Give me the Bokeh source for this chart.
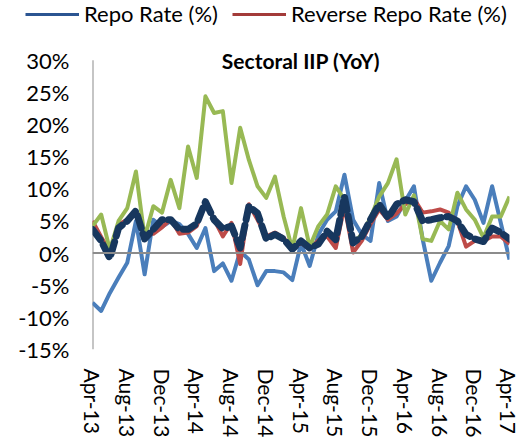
from bokeh.plotting import figure
from bokeh.layouts import column
from bokeh.models import Span, Label, Legend, LegendItem, FixedTicker, Range1d
from bokeh.embed import file_html
from bokeh.resources import INLINE

months = ["Apr-13", "May-13", "Jun-13", "Jul-13", "Aug-13", "Sep-13", "Oct-13", "Nov-13", "Dec-13",
          "Jan-14", "Feb-14", "Mar-14", "Apr-14", "May-14", "Jun-14", "Jul-14", "Aug-14", "Sep-14",
          "Oct-14", "Nov-14", "Dec-14", "Jan-15", "Feb-15", "Mar-15", "Apr-15", "May-15", "Jun-15",
          "Jul-15", "Aug-15", "Sep-15", "Oct-15", "Nov-15", "Dec-15", "Jan-16", "Feb-16", "Mar-16",
          "Apr-16", "May-16", "Jun-16", "Jul-16", "Aug-16", "Sep-16", "Oct-16", "Nov-16", "Dec-16",
          "Jan-17", "Feb-17", "Mar-17", "Apr-17"]

mining = [-7.7, -9.0, -6.2, -3.8, -1.5, 5.0, -3.3, 5.2, 4.1, 5.0, 4.5, 3.0, 0.8, 3.9, -2.8, -1.6,
          -4.3, 0.3, -1.0, -5.0, -2.8, -2.8, -3.0, -4.2, 1.5, -2.0, 2.9, 5.2, 6.5, 12.2, 5.2, 2.9,
          1.9, 10.9, 5.0, 5.7, 8.1, 10.4, 2.2, -4.3, -1.5, 1.1, 7.3, 10.4, 8.3, 4.7, 10.4, 4.7, -1.0]

manufacturing = [5.0, 2.5, 0.3, 4.5, 5.2, 6.6, 3.4, 3.0, 4.0, 5.3, 3.0, 3.2, 4.2, 7.9, 5.2, 2.6,
                 4.7, -1.7, 7.6, 5.2, 2.6, 3.2, 2.4, 0.6, 1.6, 0.6, 2.0, 2.6, 0.8, 7.3, 0.1, 1.9,
                 4.5, 6.8, 5.2, 6.2, 7.6, 8.5, 6.3, 6.5, 6.8, 6.3, 5.0, 1.0, 1.9, 1.9, 2.6, 2.6, 1.4]

electricity = [4.2, 6.0, 0.5, 5.0, 7.0, 12.7, 2.4, 7.3, 6.3, 11.4, 7.0, 16.6, 11.7, 24.4, 21.8, 22.1,
               10.9, 19.5, 14.5, 10.4, 8.6, 11.9, 5.7, 0.6, 7.0, 1.0, 4.2, 6.0, 10.4, 8.3, 1.6, 2.9,
               5.5, 8.8, 10.9, 14.6, 6.0, 9.0, 2.2, 1.9, 5.0, 3.7, 9.4, 6.8, 5.2, 2.4, 5.7, 5.7, 8.8]

overall_iip = [3.7, 1.9, -0.8, 3.9, 5.0, 6.6, 2.2, 3.7, 5.2, 5.2, 3.7, 3.7, 4.6, 8.0, 5.2, 3.8,
               4.2, 0.8, 7.3, 6.2, 2.2, 2.9, 2.2, 0.6, 1.9, 0.8, 1.4, 3.4, 2.1, 8.8, 1.6, 2.6,
               5.2, 7.6, 5.5, 7.6, 8.3, 8.0, 5.0, 5.2, 5.5, 5.7, 5.0, 2.9, 2.2, 1.8, 3.9, 3.2, 2.2]

legend_labels = ["Repo Rate (%)", "Reverse Repo Rate (%)"]
x_tick_labels = ["Apr-13", "Aug-13", "Dec-13", "Apr-14", "Aug-14", "Dec-14", "Apr-15",
                 "Aug-15", "Dec-15", "Apr-16", "Aug-16", "Dec-16", "Apr-17"]
y_ticks = [-15, -10, -5, 0, 5, 10, 15, 20, 25, 30]
y_tick_labels = ["-15%", "-10%", "-5%", "0%", "5%", "10%", "15%", "20%", "25%", "30%"]
title_text = "Sectoral IIP (YoY)"

FONT = "Lato"
AXIS_GRAY = "#8C8C8C"
x = list(range(len(months)))
nan = float("nan")

# ---- legend strip (own small figure above the chart, frame spans its full width) ----
lf = figure(width=520, height=30, output_backend="svg", toolbar_location=None,
            x_axis_type=None, y_axis_type=None, min_border=0,
            x_range=Range1d(0, 1), y_range=Range1d(0, 1))
lf.frame_align = False
lf.outline_line_color = None
lf.grid.visible = False
# legend-only series (no values shown in the chart)
r1 = lf.line([nan], [nan], line_color="#2B5592", line_width=3)
r2 = lf.line([nan], [nan], line_color="#A33B39", line_width=3)
legend = Legend(items=[LegendItem(label=legend_labels[0], renderers=[r1]),
                       LegendItem(label=legend_labels[1], renderers=[r2])],
                orientation="horizontal", location=(25, 3),
                label_text_font=FONT, label_text_font_size="22px", label_text_color="#000000",
                glyph_width=54, glyph_height=20, label_standoff=5, spacing=14,
                padding=0, margin=0, border_line_color=None, background_fill_alpha=0)
lf.add_layout(legend)

# ---- main chart ----
p = figure(frame_width=417, frame_height=302, output_backend="svg", toolbar_location=None,
           x_range=Range1d(0, len(months) - 1), y_range=Range1d(y_ticks[0], y_ticks[-1] + 2),
           min_border_left=92, min_border_top=17, min_border_right=11, min_border_bottom=10)
p.frame_align = False
p.outline_line_color = None
p.grid.visible = False

# zero line and vertical axis line (from -15% to 30%)
p.add_layout(Span(location=0, dimension="width", line_color=AXIS_GRAY, line_width=2))
p.segment(x0=[x[0]], y0=[y_ticks[0]], x1=[x[0]], y1=[y_ticks[-1]],
          line_color=AXIS_GRAY, line_width=2)

p.line(x, mining, line_color="#4A7EBB", line_width=4, line_join="round")
p.line(x, manufacturing, line_color="#BE4B48", line_width=4, line_join="round")
p.line(x, electricity, line_color="#98B954", line_width=4, line_join="round")
p.line(x, overall_iip, line_color="#17375E", line_width=7, line_dash="13 6",
       line_cap="round", line_join="round")

p.add_layout(Label(x=(len(months) - 1) / 2, y=y_ticks[-1] + 2, text=title_text, text_align="center",
                   text_baseline="top", text_font=FONT, text_font_style="bold",
                   text_font_size="21px", text_color="#000000"))

# y axis
p.yaxis.ticker = FixedTicker(ticks=y_ticks)
p.yaxis.major_label_overrides = {t: l for t, l in zip(y_ticks, y_tick_labels)}
p.yaxis.axis_line_color = None
p.yaxis.major_tick_line_color = None
p.yaxis.minor_tick_line_color = None
p.yaxis.major_tick_out = 0
p.yaxis.major_label_standoff = 23
p.yaxis.major_label_text_font = FONT
p.yaxis.major_label_text_font_size = "22px"
p.yaxis.major_label_text_color = "#000000"

# x axis
x_ticks = [months.index(l) for l in x_tick_labels]
p.xaxis.ticker = FixedTicker(ticks=x_ticks)
p.xaxis.major_label_overrides = {t: l for t, l in zip(x_ticks, x_tick_labels)}
p.xaxis.major_label_orientation = "vertical"
p.xaxis.axis_line_color = None
p.xaxis.major_tick_line_color = None
p.xaxis.minor_tick_line_color = None
p.xaxis.major_tick_out = 0
p.xaxis.major_label_standoff = 19
p.xaxis.major_label_text_font = FONT
p.xaxis.major_label_text_font_size = "21px"
p.xaxis.major_label_text_color = "#000000"

layout = column(lf, p, spacing=0)
open("out.html", "w").write(file_html(layout, INLINE))
